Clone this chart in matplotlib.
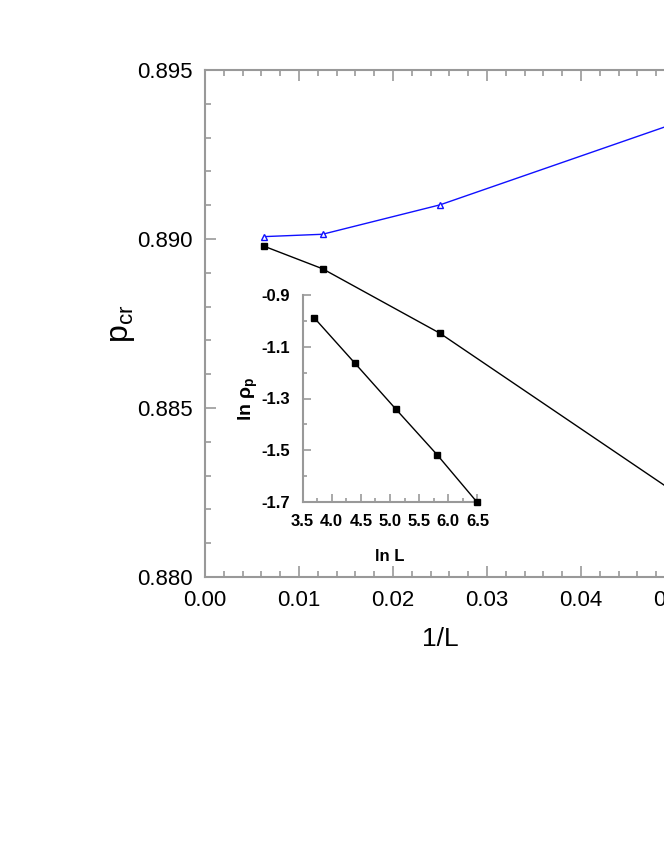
import matplotlib
matplotlib.use("Agg")
import matplotlib.pyplot as plt
from matplotlib.ticker import MultipleLocator, FixedLocator

plt.rcParams['font.family'] = ['Liberation Sans', 'DejaVu Sans']
plt.rcParams['mathtext.fontset'] = 'custom'
plt.rcParams['mathtext.rm'] = 'Liberation Sans'
plt.rcParams['mathtext.it'] = 'Liberation Sans'
plt.rcParams['mathtext.bf'] = 'Liberation Sans:bold'

# main data
inv_L = [0.00625, 0.0125, 0.025, 0.05]
p_blue = [0.89007, 0.89014, 0.89101, 0.89342]
p_black = [0.88979, 0.88912, 0.88721, 0.88250]

# inset data
ln_L = [3.70, 4.40, 5.10, 5.81, 6.49]
ln_rho = [-0.988, -1.164, -1.341, -1.518, -1.700]
inset_yticks = [-1.7, -1.5, -1.3, -1.1, -0.9]

W, H = 664, 860
fig = plt.figure(figsize=(W / 100, H / 100), dpi=100)
grey = '#999999'

ax = fig.add_axes([205 / W, (H - 577) / H, 0.05 * 9400 / W, 507 / H])
ax.plot(inv_L, p_blue, color='#1010ff', lw=1.0, marker='^', ms=5,
        mfc='white', mec='#1010ff', mew=1.0, clip_on=False, zorder=3)
ax.plot(inv_L, p_black, color='black', lw=1.0, marker='s', ms=5,
        mfc='black', mec='black', clip_on=False, zorder=3)
ax.set_xlim(0, 0.05)
ax.set_ylim(0.880, 0.895)
ax.xaxis.set_major_locator(MultipleLocator(0.01))
ax.xaxis.set_minor_locator(MultipleLocator(0.002))
ax.yaxis.set_major_locator(MultipleLocator(0.005))
ax.yaxis.set_minor_locator(MultipleLocator(0.001))
ax.xaxis.set_major_formatter(plt.FormatStrFormatter('%.2f'))
ax.yaxis.set_major_formatter(plt.FormatStrFormatter('%.3f'))
for s in ax.spines.values():
    s.set_color(grey)
    s.set_linewidth(1.5)
ax.tick_params(which='both', direction='in', top=True, right=True,
               color=grey, width=1.2)
ax.tick_params(which='major', length=8, labelsize=16, pad=9)
ax.tick_params(which='minor', length=4)
ax.set_xlabel('1/L', fontsize=19, labelpad=12)
ax.set_ylabel(r'p$_{\mathregular{cr}}$', fontsize=23, labelpad=0)

axi = fig.add_axes([302.5 / W, (H - 502) / H, 175 / W, 207 / H])
axi.plot(ln_L, ln_rho, color='black', lw=1.0, marker='s', ms=5,
         mfc='black', mec='black', clip_on=False, zorder=3)
axi.set_xlim(3.5, 6.5)
axi.set_ylim(-1.7, -0.9)
axi.xaxis.set_major_locator(MultipleLocator(0.5))
axi.xaxis.set_minor_locator(MultipleLocator(0.25))
axi.yaxis.set_major_locator(FixedLocator(inset_yticks))
axi.yaxis.set_minor_locator(MultipleLocator(0.1))
axi.xaxis.set_major_formatter(plt.FormatStrFormatter('%.1f'))
axi.yaxis.set_major_formatter(plt.FormatStrFormatter('%.1f'))
axi.patch.set_alpha(0)
axi.spines['top'].set_visible(False)
axi.spines['right'].set_visible(False)
for k in ('left', 'bottom'):
    axi.spines[k].set_color(grey)
    axi.spines[k].set_linewidth(1.5)
axi.tick_params(which='both', direction='in', color=grey, width=1.2)
axi.tick_params(which='major', length=6, labelsize=12, pad=9)
axi.tick_params(which='minor', length=3)
for t in axi.get_xticklabels() + axi.get_yticklabels():
    t.set_fontweight('bold')
axi.set_xlabel('ln L', fontsize=12, fontweight='bold', labelpad=14)
axi.set_ylabel(r'ln $\mathbf{\rho}_{\mathbf{p}}$', fontsize=14, fontweight='bold', labelpad=1)

fig.savefig('out.png', dpi=100)
